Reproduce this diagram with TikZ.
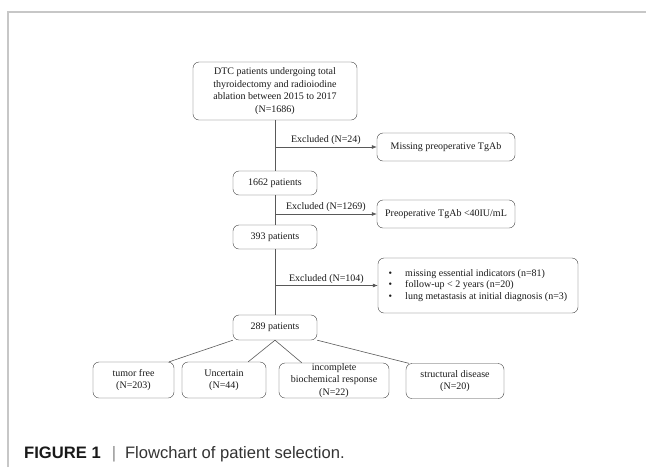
\documentclass[tikz,border=0pt]{standalone}
\usepackage{fontspec}
\setmainfont{Liberation Serif}
\newfontfamily\capfont{Liberation Sans}
\usetikzlibrary{arrows.meta,calc}

\begin{document}
\begin{tikzpicture}[>={Latex[length=5pt,width=4pt]}, x=1pt, y=-1pt,
    box/.style={draw=black!75, rounded corners=6pt, align=center, inner sep=0pt,
        font=\fontsize{10}{12.5}\selectfont, text=black!90},
    link/.style={draw=black!65, line width=0.6pt},
    excl/.style={midway, above, inner sep=2pt, font=\fontsize{10}{12}\selectfont, text=black!90}]
    \useasboundingbox (0,0) rectangle (646,467);
    % frame
    \draw[black!22, line width=1.2pt] (8,467) -- (8,12) -- (646,12);

    % main column
    \node[box, minimum width=164pt, minimum height=58pt] (total) at (275,91)
        {DTC patients undergoing total\\thyroidectomy and radioiodine\\ablation between 2015 to 2017\\(N=1686)};
    \node[box, minimum width=84pt, minimum height=24pt] (p1662) at (275,183) {1662 patients};
    \node[box, minimum width=84pt, minimum height=24pt] (p393) at (275,237) {393 patients};
    \node[box, minimum width=84pt, minimum height=25pt] (p289) at (275,327.5) {289 patients};
    \draw[link] (total.south) -- (p1662.north);
    \draw[link] (p1662.south) -- (p393.north);
    \draw[link] (p393.south) -- (p289.north);

    % exclusions
    \node[box, minimum width=138pt, minimum height=28pt] (missing) at (446,147) {Missing preoperative TgAb};
    \node[box, minimum width=138pt, minimum height=28pt] (tgab) at (446,214) {Preoperative TgAb <40IU/mL};
    \node[box, minimum width=200pt, minimum height=55pt, font=\fontsize{10}{11.5}\selectfont] (other) at (478,285.5)
        {\begin{tabular}{@{}l@{\hspace{13pt}}l@{}}
            \textbullet & missing essential indicators (n=81)\\
            \textbullet & follow-up < 2 years (n=20)\\
            \textbullet & lung metastasis at initial diagnosis (n=3)
        \end{tabular}};
    \draw[link,->] (total.south |- missing.west) -- (missing.west) node[excl] {Excluded (N=24)};
    \draw[link,->] (total.south |- tgab.west) -- (tgab.west) node[excl] {Excluded (N=1269)};
    \draw[link,->] (total.south |- other.west) -- (other.west) node[excl] {Excluded (N=104)};

    % outcomes
    \node[box, minimum width=81pt, minimum height=36pt] (free) at (133.5,380) {tumor free\\(N=203)};
    \node[box, minimum width=84pt, minimum height=36pt] (uncert) at (224,380) {Uncertain\\(N=44)};
    \node[box, minimum width=110pt, minimum height=35pt] (incompl) at (334,380.5) {incomplete\\biochemical response\\(N=22)};
    \node[box, minimum width=98pt, minimum height=35pt] (struct) at (455,381) {structural disease\\(N=20)};
    \draw[link] (p289.south west) -- ($(free.north east)+(-5,0)$);
    \draw[link] (p289.south) -- ($(uncert.north east)+(-18,0)$);
    \draw[link] (p289.south) -- ($(incompl.north west)+(23,0)$);
    \draw[link] (p289.south east) -- ($(struct.north west)+(3,0)$);

    % caption
    \node[anchor=base west, inner sep=0pt, font=\capfont\fontsize{16.6}{20}\selectfont, text=black!80] (caption) at (24,458)
        {\textcolor{black!90}{\bfseries FIGURE 1}\hspace{11pt}{\color{black!45}|}\hspace{9pt}Flowchart of patient selection.};
\end{tikzpicture}
\end{document}
